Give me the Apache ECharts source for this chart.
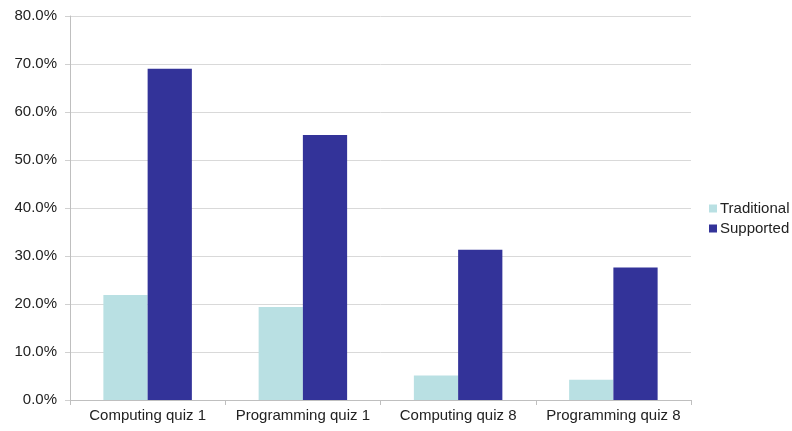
<!DOCTYPE html>
<html>
<head>
<meta charset="utf-8">
<script src="https://cdn.jsdelivr.net/npm/echarts@6/dist/echarts.min.js"></script>
<style>
  html, body { margin: 0; padding: 0; background: #fff; }
  #chart { width: 792px; height: 431px; }
</style>
</head>
<body>
<div id="chart"></div>
<script>
var categories = ['Computing quiz 1', 'Programming quiz 1', 'Computing quiz 8', 'Programming quiz 8'];
var traditional = [21.9, 19.4, 5.1, 4.2];
var supported = [69.0, 55.2, 31.3, 27.6];

var chart = echarts.init(document.getElementById('chart'));

var option = {
    animation: false,
    textStyle: { fontFamily: 'Liberation Sans, Arial, sans-serif' },
    grid: { left: 70, right: 101, top: 16, bottom: 31 },
    legend: {
        orient: 'vertical',
        left: 704,
        top: 196,
        itemWidth: 8,
        itemHeight: 8,
        itemGap: 5,
        icon: 'rect',
        textStyle: { fontSize: 15, color: '#222', padding: [0, 0, 0, -2] },
        data: ['Traditional', 'Supported']
    },
    xAxis: {
        type: 'category',
        data: categories,
        axisLine: { lineStyle: { color: '#bfbfbf' } },
        axisTick: { show: true, interval: 0, length: 5, lineStyle: { color: '#bfbfbf' } },
        axisLabel: { interval: 0, fontSize: 15, color: '#222', margin: 8 }
    },
    yAxis: {
        type: 'value',
        min: 0,
        max: 80,
        interval: 10,
        axisLine: { show: true, lineStyle: { color: '#bfbfbf' } },
        axisTick: { show: true, length: 5, lineStyle: { color: '#d0d0d0' } },
        splitLine: { lineStyle: { color: '#d9d9d9' } },
        axisLabel: {
            fontSize: 15, color: '#222', margin: 13,
            formatter: function (v) { return v.toFixed(1) + '%'; }
        }
    },
    series: [
        {
            name: 'Traditional',
            type: 'bar',
            data: traditional,
            barGap: 0,
            barCategoryGap: '43%',
            itemStyle: { color: '#b9e0e3' }
        },
        {
            name: 'Supported',
            type: 'bar',
            data: supported,
            barGap: 0,
            barCategoryGap: '43%',
            itemStyle: { color: '#333399' }
        }
    ]
};
chart.setOption(option);
</script>
</body>
</html>
